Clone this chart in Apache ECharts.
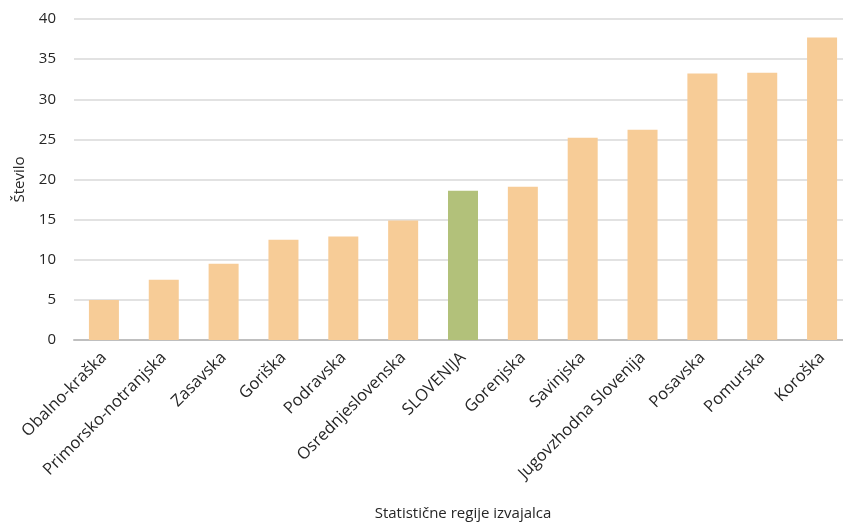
<!DOCTYPE html>
<html>
<head>
<meta charset="utf-8">
<script src="https://cdn.jsdelivr.net/npm/echarts@6/dist/echarts.min.js"></script>
<style>html,body{margin:0;padding:0;background:#fff}#c{width:843px;height:523px}</style>
</head>
<body>
<div id="c"></div>
<script>
const categories = ["Obalno-kraška","Primorsko-notranjska","Zasavska","Goriška","Podravska","Osrednjeslovenska","SLOVENIJA","Gorenjska","Savinjska","Jugovzhodna Slovenija","Posavska","Pomurska","Koroška"];
const values = [5.0, 7.5, 9.5, 12.5, 12.9, 14.9, 18.6, 19.1, 25.2, 26.2, 33.2, 33.3, 37.7];
const highlight = "SLOVENIJA";
const yTicks = {min: 0, max: 40, interval: 5};

const chart = echarts.init(document.getElementById('c'), null, {renderer: 'canvas'});
const font = '"Open Sans", Lato, sans-serif';
chart.setOption({
  animation: false,
  grid: {left: 74, top: 19, width: 778, height: 321, containLabel: false, outerBoundsMode: 'none'},
  xAxis: {
    type: 'category',
    data: categories,
    name: 'Statistične regije izvajalca',
    nameLocation: 'middle',
    nameGap: 166,
    nameTextStyle: {fontFamily: font, fontSize: 15, color: '#262626'},
    axisLine: {lineStyle: {color: '#bfbfbf', width: 2}},
    axisTick: {show: false},
    axisLabel: {rotate: 45, interval: 0, fontFamily: font, fontSize: 16.5, color: '#262626', margin: 15}
  },
  yAxis: {
    type: 'value',
    min: yTicks.min, max: yTicks.max, interval: yTicks.interval,
    name: 'Število',
    nameLocation: 'middle',
    nameGap: 47,
    nameTextStyle: {fontFamily: font, fontSize: 15, color: '#262626'},
    axisLine: {show: false},
    axisTick: {show: false},
    axisLabel: {fontFamily: font, fontSize: 15, color: '#262626', margin: 18},
    splitLine: {lineStyle: {color: '#d9d9d9', width: 1.5}}
  },
  series: [{
    type: 'bar',
    barWidth: 30,
    data: values.map((v, i) => ({
      value: v,
      itemStyle: {color: categories[i] === highlight ? '#b2c17a' : '#f7cc97'}
    }))
  }]
});
</script>
</body>
</html>
